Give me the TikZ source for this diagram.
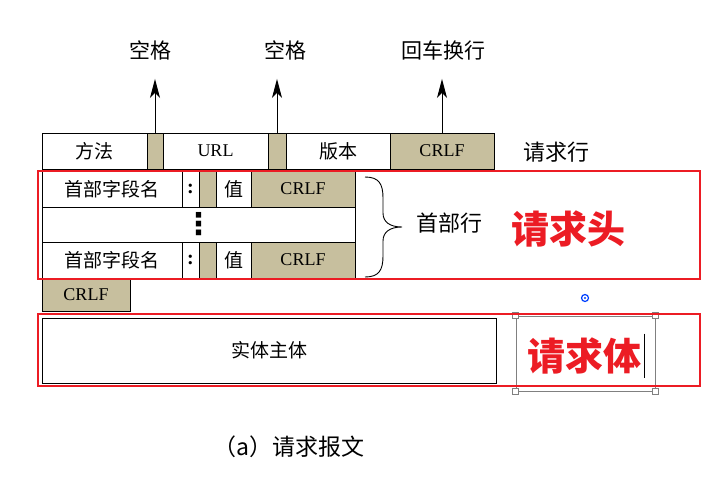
\documentclass[tikz,border=0pt]{standalone}
\usepackage{fontspec}
\setmainfont{Liberation Serif}
\newfontfamily\cjk{Noto Sans CJK SC}
\newfontfamily\symfont{DejaVu Sans}
\usepackage{xcolor}
\usepackage{tikz}
\usetikzlibrary{arrows.meta,positioning}
\definecolor{crlfgray}{RGB}{199,191,158}
\definecolor{framered}{RGB}{236,28,36}

\begin{document}
\begin{tikzpicture}[x=1pt,y=-1pt,>={Stealth[length=19pt,width=10pt,inset=5pt]},
    cell/.style={draw,line width=0.8pt,inner sep=0pt,outer sep=0pt,anchor=north west,
      minimum height=36pt,font=\cjk\fontsize{19}{19}\selectfont},
    spacecell/.style={cell,fill=crlfgray},
    crlfcell/.style={cell,fill=crlfgray,font=\fontsize{18}{18}\selectfont},
    lbl/.style={inner sep=0pt,font=\cjk\fontsize{21}{21}\selectfont},
    redframe/.style={draw=framered,line width=2.6pt},
    bigred/.style={inner sep=0pt,text=framered,font=\cjk\bfseries\fontsize{38}{38}\selectfont}]
			
			\useasboundingbox[fill=white] (0,0) rectangle (712,490);
			
			% request line
			\node[cell,minimum width=105pt] (method) at (42,133) {方法};
			\node[spacecell,minimum width=16pt,right=0pt of method] (spA) {};
			\node[cell,minimum width=105pt,right=0pt of spA,font=\fontsize{18}{18}\selectfont] (url) {URL};
			\node[spacecell,minimum width=18pt,right=0pt of url] (spB) {};
			\node[cell,minimum width=104pt,right=0pt of spB] (version) {版本};
			\node[crlfcell,minimum width=104pt,right=0pt of version] (crlfA) {CRLF};
			\node[lbl,font=\cjk\fontsize{22}{22}\selectfont] (reqline) at (556,152) {请求行};
			
			\node[lbl] (lblA) at (150,50) {空格};
			\node[lbl] (lblB) at (285,50) {空格};
			\node[lbl] (lblC) at (443,50) {回车换行};
			\draw[->,line width=1pt,shorten >=19pt] (spA.north) -- (spA.north |- lblA.south);
			\draw[->,line width=1pt,shorten >=19pt] (spB.north) -- (spB.north |- lblB.south);
			\draw[->,line width=1pt,shorten >=19pt] (crlfA.north) -- (crlfA.north |- lblC.south);
			
			% header lines
			\foreach \row/\ytop in {1/171,3/242}{
				\node[cell,minimum width=140pt] (name\row) at (42,\ytop) {首部字段名};
				\node[cell,minimum width=17pt,right=0pt of name\row,font=\bfseries\fontsize{20}{20}\selectfont] (colon\row) {:};
				\node[spacecell,minimum width=17pt,right=0pt of colon\row] (sp\row) {};
				\node[cell,minimum width=35pt,right=0pt of sp\row] (value\row) {值};
				\node[crlfcell,minimum width=104pt,right=0pt of value\row] (crlf\row) {CRLF};
			}
			\node[cell,minimum width=313pt,minimum height=35pt,font=\symfont\bfseries\fontsize{30}{30}\selectfont] (dots) at (42,207) {\raisebox{-1pt}{⋮}};
			\node[crlfcell,minimum width=88pt,minimum height=33pt] (crlfEnd) at (42,278) {CRLF};
			
			\draw[line width=0.9pt] (365,177) .. controls (379,177) and (383,184) .. (383,198)
				-- (383,213) .. controls (383,222) and (390,227) .. (402,227)
				.. controls (390,227) and (383,232) .. (383,241)
				-- (383,256) .. controls (383,270) and (379,277) .. (365,277);
			\node[lbl,font=\cjk\fontsize{22}{22}\selectfont] (hdrline) at (449,223) {首部行};
			\node[bigred] (head) at (568,229) {请求头};
			\draw[redframe] (38,171) rectangle (700,279);
			
			\draw[blue!75!cyan,line width=1.2pt] (585,298) circle (3.5pt);
			\fill[blue!75!cyan] (585,298) circle (1.2pt);
			
			% entity body
			\node[cell,minimum width=454pt,minimum height=65pt] (entity) at (42,318) {实体主体};
			\node[draw=gray,line width=0.8pt,minimum width=139pt,minimum height=75pt] (sel) at (585.5,353.5) {};
			\foreach \c in {north west,north east,south west,south east}
				\draw[gray,fill=white,line width=0.6pt] (sel.\c) ++(-3,-3) rectangle ++(6,6);
			\node[bigred] (body) at (584,356) {请求体};
			\draw[line width=1pt] ([xshift=3pt,yshift=4pt]body.north east) -- ([xshift=3pt,yshift=-4pt]body.south east);
			\draw[redframe] (38,314) rectangle (700,386);
			
			\node[lbl,font=\cjk\fontsize{23}{23}\selectfont] (caption) at (289,447) {（a）请求报文};
		\end{tikzpicture}
\end{document}
